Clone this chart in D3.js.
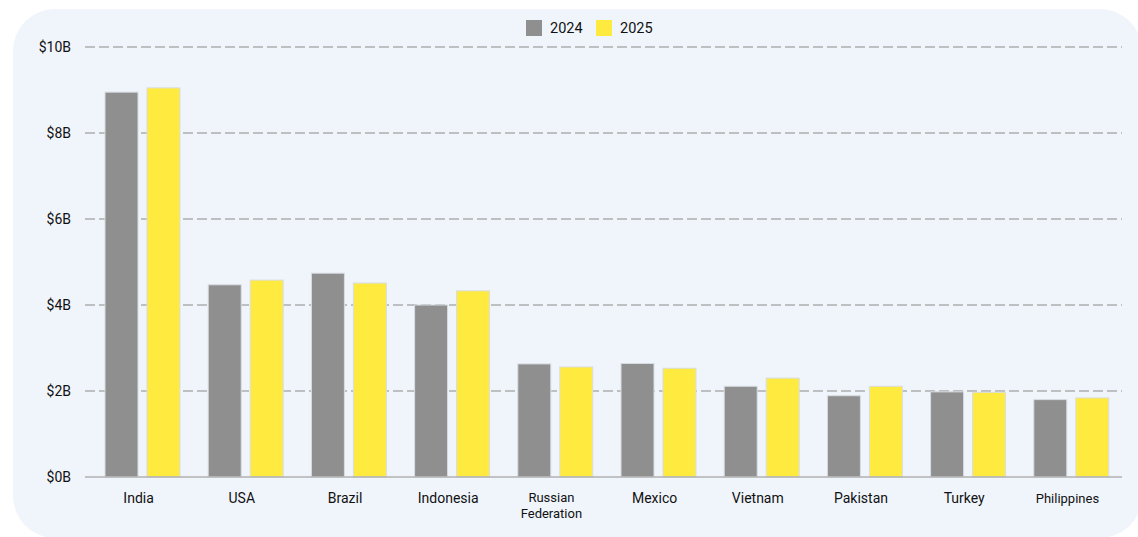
<!DOCTYPE html>
<html><head><meta charset="utf-8">
<script src="https://cdn.jsdelivr.net/npm/d3@7"></script>
<style>html,body{margin:0;padding:0;background:#fff;}svg{display:block;font-family:Roboto,sans-serif;}</style>
</head><body>
<svg id="chart" width="1138" height="537"></svg>
<script>
const categories = ["India","USA","Brazil","Indonesia","Russian Federation","Mexico","Vietnam","Pakistan","Turkey","Philippines"];
const values2024 = [8.95,4.47,4.74,4.0,2.63,2.64,2.11,1.89,1.98,1.80];
const values2025 = [9.05,4.58,4.51,4.33,2.56,2.53,2.30,2.11,1.97,1.84];
const seriesNames = ["2024","2025"];
const yTicks = [0,2,4,6,8,10];

const colors = {"2024":"#8f8f8f","2025":"#ffea3f"};
const svg = d3.select("#chart");
svg.append("rect").attr("x",13).attr("y",9).attr("width",1129).attr("height",529).attr("rx",42).attr("fill","#f0f5fc");

const m = {left:85,right:1122,top:47,bottom:477};
const x = d3.scaleBand().domain(categories).range([87,1119]).paddingInner(0).paddingOuter(0);
const y = d3.scaleLinear().domain([0,10]).range([m.bottom,m.top]);
const bw = x.bandwidth();
const xs = d3.scaleBand().domain(seriesNames).range([bw*0.1744,bw*0.901]).paddingInner(0.214).paddingOuter(0);

// grid
const grid = svg.append("g");
grid.selectAll("line").data(yTicks.filter(d=>d>0)).join("line")
  .attr("x1",m.left).attr("x2",m.right)
  .attr("y1",d=>y(d)).attr("y2",d=>y(d))
  .attr("stroke","#adadad").attr("stroke-width",1.5).attr("stroke-dasharray","10,4");

// y axis labels
const yAxis = d3.axisLeft(y).tickValues(yTicks).tickFormat(d=>"$"+d+"B").tickSize(0).tickPadding(14);
const ya = svg.append("g").attr("transform",`translate(${m.left},0)`).call(yAxis);
ya.select(".domain").remove();
ya.selectAll("text").attr("font-size",14).attr("fill","#111").attr("font-family","Roboto,sans-serif");

// bars
const data = categories.map((c,i)=>({c, vals:[{k:"2024",v:values2024[i]},{k:"2025",v:values2025[i]}]}));
const groups = svg.append("g").selectAll("g").data(data).join("g").attr("transform",d=>`translate(${x(d.c)},0)`);
groups.selectAll("rect").data(d=>d.vals).join("rect")
  .attr("x",d=>xs(d.k)).attr("width",xs.bandwidth())
  .attr("y",d=>y(d.v)).attr("height",d=>y(0)-y(d.v))
  .attr("fill",d=>colors[d.k]).attr("stroke","#d8dde3").attr("stroke-width",1);

// x axis
svg.append("line").attr("x1",m.left).attr("x2",m.right).attr("y1",y(0)).attr("y2",y(0)).attr("stroke","#b0b0b0").attr("stroke-width",1.5);
const xl = svg.append("g");
categories.forEach(c=>{
  const cx = x(c)+bw/2;
  if(c==="Russian Federation"){
    const t = xl.append("text").attr("text-anchor","middle").attr("font-size",13).attr("fill","#111");
    t.append("tspan").attr("x",cx).attr("y",502).text("Russian");
    t.append("tspan").attr("x",cx).attr("y",518).text("Federation");
  } else {
    xl.append("text").attr("x",cx).attr("y",503).attr("text-anchor","middle")
      .attr("font-size",c==="Philippines"?13:14).attr("fill","#111").text(c);
  }
});

// legend
const lg = svg.append("g");
const legX = [526,596];
seriesNames.forEach((s,i)=>{
  lg.append("rect").attr("x",legX[i]).attr("y",20).attr("width",16).attr("height",16).attr("fill",colors[s]);
  lg.append("text").attr("x",legX[i]+24).attr("y",33).attr("font-size",14.5).attr("fill","#111").text(s);
});
</script>
</body></html>
